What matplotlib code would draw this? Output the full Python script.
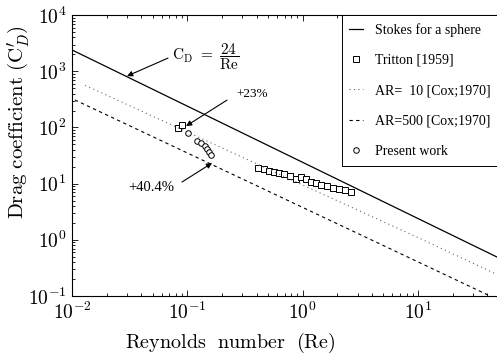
import math
import matplotlib
matplotlib.use('Agg')
import matplotlib.pyplot as plt
from matplotlib.ticker import LogLocator, FuncFormatter, NullFormatter

plt.rcParams['mathtext.fontset'] = 'cm'
plt.rcParams['font.family'] = ['Liberation Serif', 'DejaVu Serif']

# Stokes drag for a sphere, C_D = 24/Re
stokes_re = [0.01, 50.0]
stokes_cd = [2400.0, 0.48]

# Cox (1970) slender body, AR = 10 (dotted)
ar10_re = [0.013, 0.1, 1.0, 10.0, 48.0]
ar10_cd = [562.0, 83.0, 9.5, 1.1, 0.245]

# Cox (1970) slender body, AR = 500 (dashed)
ar500_re = [0.0106, 0.1, 1.0, 10.0, 48.0]
ar500_cd = [309.0, 35.2, 3.78, 0.406, 0.0885]

# Tritton [1959]
tritton_re = [0.083, 0.090, 0.41, 0.46, 0.51, 0.565, 0.624, 0.69, 0.78, 0.877,
              0.97, 1.07, 1.18, 1.31, 1.44, 1.63, 1.84, 2.07, 2.33, 2.63]
tritton_cd = [97.5, 110.0, 19.0, 18.2, 16.8, 16.1, 15.4, 14.8, 13.7, 12.1,
              13.1, 12.1, 10.7, 10.2, 9.4, 9.1, 8.4, 8.0, 7.7, 7.1]

# present work
present_re = [0.101, 0.121, 0.131, 0.142, 0.148, 0.154, 0.160]
present_cd = [79.4, 57.3, 52.8, 46.7, 41.3, 36.5, 32.3]

fig = plt.figure(figsize=(4.97, 3.56), dpi=100)
ax = fig.add_axes([0.1449, 0.1685, 0.858, 0.789])

ax.plot(stokes_re, stokes_cd, color='k', lw=0.9, label='Stokes for a sphere')
ax.plot(tritton_re, tritton_cd, ls='none', marker='s', ms=4, mfc='white',
        mec='k', mew=0.7, label='Tritton [1959]')
ax.plot(ar10_re, ar10_cd, color='0.4', lw=0.8, ls=(0, (1, 3)),
        label='AR=  10 [Cox;1970]')
ax.plot(ar500_re, ar500_cd, color='k', lw=0.8, ls=(0, (3, 3)),
        label='AR=500 [Cox;1970]')
ax.plot(present_re, present_cd, ls='none', marker='o', ms=4, mfc='white',
        mec='k', mew=0.7, label='Present work')

ax.set_xscale('log')
ax.set_yscale('log')
ax.set_xlim(0.01, 50)
ax.set_ylim(0.1, 1e4)

fmt = FuncFormatter(lambda v, p: r'$10^{%d}$' % round(math.log10(v)))
ax.xaxis.set_major_locator(LogLocator(base=10))
ax.yaxis.set_major_locator(LogLocator(base=10))
ax.xaxis.set_major_formatter(fmt)
ax.yaxis.set_major_formatter(fmt)
ax.xaxis.set_minor_locator(LogLocator(base=10, subs=range(2, 10)))
ax.yaxis.set_minor_locator(LogLocator(base=10, subs=range(2, 10)))
ax.xaxis.set_minor_formatter(NullFormatter())
ax.yaxis.set_minor_formatter(NullFormatter())
ax.tick_params(which='both', direction='in', top=True, right=False, width=0.6)
ax.tick_params(which='major', length=4, labelsize=14, pad=4)
ax.tick_params(which='minor', length=2)
ax.spines['right'].set_visible(False)
for s in ax.spines.values():
    s.set_linewidth(0.8)

ax.set_xlabel(r'$\mathrm{Reynolds\ \ number\ \ (Re)}$', fontsize=14.5)
ax.set_ylabel(r'$\mathrm{Drag\ coefficient\ (C}^{\prime}_{D}\mathrm{)}$', fontsize=15)
ax.xaxis.set_label_coords(0.37, -0.125)
ax.yaxis.set_label_coords(-0.094, 0.62)

arrow = dict(arrowstyle='-|>', color='k', lw=0.8, mutation_scale=8,
             shrinkA=0, shrinkB=0)
ax.annotate('', xy=(0.030, 822), xytext=(0.068, 1718), arrowprops=arrow)
ax.text(0.0736, 1790, r'$\mathrm{C_D}\ =\ \dfrac{24}{\mathrm{Re}}$', fontsize=11,
        ha='left', va='center')
ax.annotate('', xy=(0.0975, 106), xytext=(0.221, 307), arrowprops=arrow)
ax.text(0.264, 393, '+23%', fontsize=9.5, ha='left', va='center')
ax.annotate('', xy=(0.164, 23.3), xytext=(0.09, 10.7), arrowprops=arrow)
ax.text(0.0306, 8.7, '+40.4%', fontsize=10.5, ha='left', va='center')

leg = ax.legend(loc='upper right', bbox_to_anchor=(1.0, 1.0), borderaxespad=0,
                fontsize=10, labelspacing=1.25, handlelength=0.95,
                handletextpad=0.9, borderpad=0.55, fancybox=False,
                framealpha=1, edgecolor='k')
leg.get_frame().set_linewidth(0.7)

fig.savefig('out.png', dpi=100)
